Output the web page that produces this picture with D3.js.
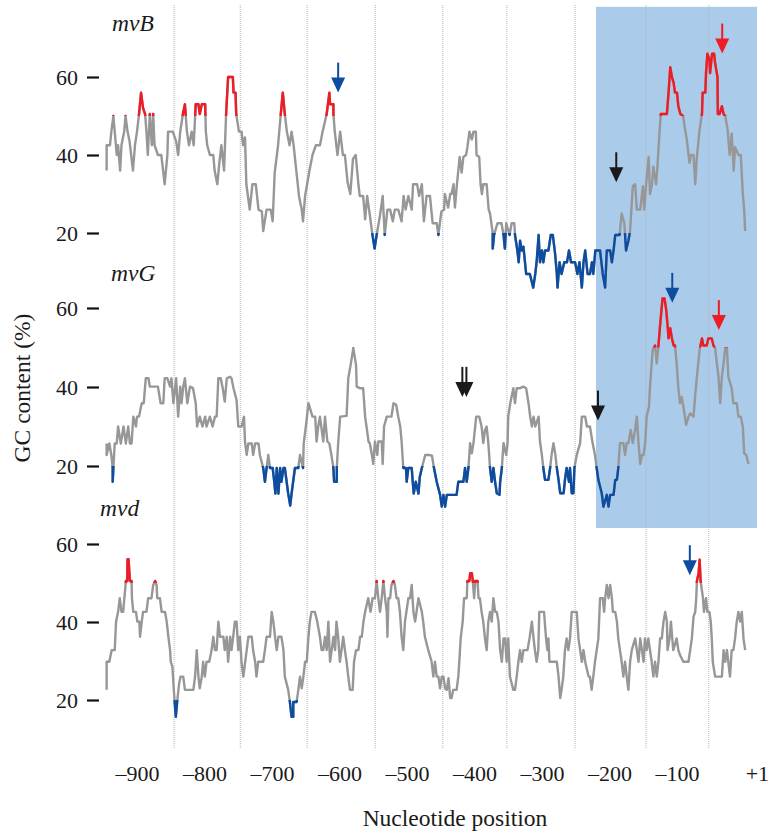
<!DOCTYPE html>
<html>
<head>
<meta charset="utf-8">
<script src="https://cdn.jsdelivr.net/npm/d3@7"></script>
<style>
  html, body { margin: 0; padding: 0; background: #fff; }
  svg { display: block; font-family: "Liberation Serif", "Times New Roman", serif; }
</style>
</head>
<body>
<svg id="chart" width="769" height="832"></svg>
<script>
// GC content along the promoter region, [nucleotide position, GC %]
const mvB = [
  [-945,36],[-945,42.5],[-940,42.5],[-938,46],[-935,50],[-933,46],[-930,40],[-928,42.5],[-925,36],[-923,42.5],
  [-919,46],[-917,50],[-914,46],[-911,43.5],[-906,36],[-903,42.5],[-900,46],[-897,50.5],[-894,56],[-891,52],
  [-888,50.5],[-886,46],[-884,40],[-881,50.5],[-878,42.5],[-876,50.5],[-874,42.5],[-869,40],[-864,40],[-859,32.5],
  [-855,40],[-854,46],[-847,46],[-842,43.5],[-839,40],[-836,46],[-832,50.5],[-829,53],[-826,46],[-823,42.5],
  [-819,46],[-816,42.5],[-813,53],[-809,53],[-807,50.5],[-804,53],[-799,53],[-798,46],[-796,42.5],[-792,40],
  [-787,40],[-785,36],[-781,32.5],[-778,38],[-775,42.5],[-771,36],[-768,50.5],[-765,60],[-758,60],[-757,56],
  [-754,56],[-753,50.5],[-749,46],[-745,46],[-743,42.5],[-740,44.5],[-738,32.5],[-733,26],[-729,32.5],[-724,32.5],
  [-720,26],[-715,25.5],[-713,20.5],[-708,26],[-702,26],[-699,23],[-696,35.5],[-691,42.5],[-687,50.5],[-684,56],
  [-681,50.5],[-678,46],[-674,42.5],[-671,46],[-668,42.5],[-664,36],[-660,29.5],[-656,26],[-654,23],[-651,29.5],
  [-648,32.5],[-644,36.5],[-640,40],[-635,42.5],[-629,42.5],[-625,46],[-619,50.5],[-615,56],[-614,53],[-609,53],
  [-609,50.5],[-607,46],[-603,40],[-599,46],[-595,40],[-592,40],[-588,33],[-584,30],[-580,39],[-576,40],
  [-572,32.5],[-570,29.5],[-565,29.5],[-562,23.5],[-559,29.5],[-555,24.5],[-552,20.5],[-548,16],[-545,19.5],[-540,24.5],
  [-536,29.5],[-533,19.5],[-529,26],[-525,26],[-521,23],[-518,26],[-513,26],[-508,23],[-505,29.5],[-502,26],
  [-498,29.5],[-493,26],[-491,32.5],[-485,32.5],[-482,29.5],[-478,32.5],[-475,23],[-471,29.5],[-466,29.5],
  [-462,22.5],[-456,22.5],[-453.5,19.5],[-451,23],[-449,25.5],[-445,26],[-444,30],[-439,26.5],[-436,30],[-434,30],
  [-431,32.5],[-429,26.5],[-426,32.5],[-422,39.5],[-419,35.5],[-416.5,39.5],[-412.5,40],[-410.5,42],[-407.5,46],[-404,44],
  [-401.5,46],[-398,46],[-397,40],[-393,39.5],[-391,32.5],[-389,30],[-387,32.5],[-382,32.5],[-379,26],[-377,25],
  [-373,20],[-373,16],[-371,19.5],[-366,22.5],[-360,22.5],[-357,19.5],[-355,16],[-353,22.5],[-348,19.5],[-345,22.5],
  [-341,22.5],[-340,19.5],[-336.5,15.5],[-334.5,12.5],[-332.5,18],[-330,15.5],[-327.5,16.5],[-323.5,9.5],[-318,9.5],[-313,6],
  [-310,9.5],[-308,12.5],[-305,19.5],[-303,12.5],[-300,15.5],[-298,12.5],[-295.5,15.5],[-290.5,15.5],[-287,19.5],[-284,19.5],
  [-280.5,14.5],[-278,9.5],[-277,6],[-274,12.5],[-271,9.5],[-267,12.5],[-263,12.5],[-260,15.5],[-257,12.5],[-251,12.5],
  [-247.5,9.5],[-244.5,12.5],[-241,6],[-238.5,12.5],[-236,15.5],[-232.5,9.5],[-229,9.5],[-226,12.5],[-224,9.5],[-221,15.5],
  [-214,15.5],[-210,9.5],[-206.5,6],[-204,15.5],[-199,15.5],[-196.5,12.5],[-194,15.5],[-191.5,19.5],[-185,19.5],[-182,25],
  [-178,22.5],[-175.5,15.5],[-172,18],[-169.5,20.5],[-165.5,32],[-162,32.5],[-159.5,26],[-154.5,26],[-150.5,32],[-148.5,26],
  [-146,32],[-142,39.5],[-140,30],[-137,32.5],[-135,37],[-131,32.5],[-129,37],[-126,45.5],[-124,50.5],[-121,50.5],
  [-115,50.5],[-112.5,56],[-110,62.5],[-107.5,60],[-105,58.5],[-103,56],[-100,56],[-98,52.5],[-95,50.5],[-91,50],
  [-88,46.5],[-85.5,44],[-81.5,38],[-79.5,40],[-75.5,40],[-73,32.5],[-70.5,39.5],[-66.5,46.5],[-63,50.5],[-62,56],
  [-58,56],[-57,61],[-55,66],[-52,64.5],[-51,61],[-48,66],[-45,66],[-43.5,63.5],[-40,60],[-39.5,50.5],
  [-37,50.5],[-33.5,52.5],[-31,50.5],[-28.5,50],[-25,46.5],[-22,40],[-19,45.5],[-16,36],[-14,42],[-9,40],
  [-5.5,40],[-2.5,30],[-0.5,26],[1,20.5]
];

const mvG = [
  [-945,25.7],[-945,22.8],[-941,25.7],[-938,22.8],[-936,19.5],[-936,16],[-935,19.5],[-933,25.7],[-930,25.7],[-928,30],
  [-924,25.7],[-920,30],[-916.5,25.7],[-913,30],[-910.5,25.7],[-908,25.7],[-905.5,32.5],[-901.5,30],[-900,32.5],[-897,32.5],
  [-893,35.9],[-890,35.9],[-887,42.2],[-883,42.2],[-881,40.1],[-869,40.1],[-865,35.9],[-861,35.9],[-859,42.2],[-855,42.2],
  [-851,40.1],[-849,42.2],[-846,35.9],[-842,42.2],[-839,32.5],[-836,40.1],[-834,35.9],[-831.5,40.1],[-829,42.2],[-825.5,35.9],
  [-821.5,40.1],[-817,39.7],[-813,35.9],[-811,30],[-807,32.5],[-803,30],[-799,32.5],[-797,30],[-792,32.5],[-788,30],
  [-784.5,32.5],[-782,32.5],[-779.5,42.2],[-776,42.2],[-773,39.7],[-770,36.3],[-767,42.2],[-762,42.6],[-760,42.2],[-757,39.7],
  [-752.5,36.7],[-750,30],[-745,30],[-741.5,32.5],[-740,26.2],[-737.5,22.8],[-735,25.7],[-730,25.7],[-728,22.8],[-725,25.7],
  [-720,25.7],[-718,22.8],[-713,19.5],[-710.5,16],[-708,19.5],[-705.5,22.8],[-703,19.5],[-699,19.5],[-697,16.5],[-695,13],
  [-693,19.5],[-690.5,13],[-688,19.5],[-686,16],[-683,19.5],[-681,19.5],[-676,13],[-673,10],[-671,13],[-666,19.5],
  [-661,19.5],[-658.5,22.8],[-654,19.5],[-653,25.7],[-649,31.2],[-646,35.9],[-643,34.2],[-640,32.5],[-636,32.5],[-634,26.2],
  [-631.5,30],[-629,32.5],[-624,26.2],[-621.5,32.5],[-618,26.2],[-615,25.7],[-612,22.8],[-609,19.5],[-608,16],[-604,16],
  [-604,19.5],[-602,25.7],[-599,32.5],[-589.5,32.7],[-587,42.2],[-583.5,45.6],[-579.5,49.8],[-575.5,45.6],[-574.5,40.1],[-570,39.7],
  [-565,39.7],[-562,32.5],[-557,26.2],[-555,25.7],[-552,22.8],[-550,20.5],[-547.5,26.2],[-544,22.8],[-542.5,26.2],[-537.5,26.2],
  [-536,20.5],[-534,30],[-530,32.5],[-523,32.5],[-520,35.9],[-516,35.5],[-513,32.5],[-510,30],[-508,26.2],[-505.5,19.5],
  [-501.5,19.5],[-500.5,16],[-498,19.5],[-493,19.5],[-491.5,16],[-490,13],[-487,16],[-483,13],[-481,17.3],[-478,19.5],
  [-473,22.8],[-468,22.8],[-463,22.6],[-460,19.5],[-456,16],[-451,12.7],[-448.5,9.7],[-446,12.7],[-443.5,9.7],[-441,12.7],
  [-426.5,12.7],[-424,16],[-416.5,16],[-414,19.5],[-411.5,16],[-409,19.5],[-406.5,25.8],[-404,23.2],[-401.5,25.8],[-397.5,32.5],
  [-393,32.5],[-389.5,30],[-387,25.8],[-384.5,29.1],[-382,30],[-379.5,25.8],[-377,19.5],[-374.5,16],[-372,19.5],[-369.5,16],
  [-367,13.1],[-363,12.7],[-362,16],[-359.5,19.5],[-357,25.8],[-353,22.8],[-351,25.8],[-350,32.5],[-347,35.9],[-342.5,39.7],
  [-340,35.9],[-337.5,39.7],[-332.5,39.7],[-327.5,40.1],[-323.5,39.7],[-320,35.9],[-317.5,32.5],[-315,30],[-312.5,32.5],[-310,30],
  [-305,32.5],[-303,26.2],[-300.5,23.2],[-298,19.5],[-295.5,16.5],[-290.5,16.5],[-288,19.5],[-285.5,23.2],[-283,25.8],[-280.5,23.2],
  [-278,19.5],[-275.5,16.5],[-273,13.1],[-268,13.1],[-266,16.5],[-263.5,19.5],[-260,16],[-258.5,19.5],[-256,13.1],[-253.5,13.1],
  [-252,19.5],[-248.5,22.8],[-243.5,25.8],[-241,32.5],[-236,32.5],[-233.5,30],[-229,30],[-225,25.8],[-221.5,22.8],[-219,19.5],
  [-216.5,16.5],[-211.5,13.1],[-209,9.7],[-204,12.7],[-201.5,9.7],[-199,12.7],[-194,12.7],[-191.5,16.5],[-189,16.5],[-187,19.5],
  [-184.5,25.8],[-179.5,25.8],[-177,22.8],[-174.5,25.8],[-172,25.8],[-168.5,29.1],[-165.5,25.8],[-162,29.1],[-159.5,32.5],[-157,25.8],
  [-154.5,20.5],[-152,22.8],[-149.5,22.8],[-147,26.2],[-145,32.5],[-141.5,35],[-140,40.1],[-137.5,46],[-136,49.4],[-132.5,50.5],
  [-130,46],[-127.5,50.5],[-125,55.7],[-121.5,62.4],[-118.5,62.4],[-116,59.5],[-114,55.7],[-112.5,52.3],[-110,54.9],[-107.5,52.3],
  [-105,50.5],[-103,50.5],[-100.5,46],[-98,39.7],[-95.5,35.9],[-93,37.5],[-90.5,35],[-86.5,30.4],[-83,32.5],[-80.5,33.3],
  [-75.5,32.5],[-73,38],[-70.5,42.6],[-66.5,49.4],[-63,52.3],[-61,50.5],[-56,50.5],[-53.5,52.3],[-48.5,52.3],[-46,50.5],
  [-43.5,49.8],[-41,46],[-38.5,42.6],[-36,35.9],[-33.5,42.6],[-31,46],[-28.5,49.8],[-26,49.8],[-24,42.6],[-19,39.7],
  [-16.5,35.9],[-11.5,35.9],[-9,32.5],[-5.5,32.5],[-2.5,30],[-0.5,23.2],[2.5,22.8],[6,20.5]
];

const mvd = [
  [-945,22.6],[-945,29.8],[-941,29.8],[-937.5,32.8],[-933,32.8],[-931,40.1],[-928,42.6],[-925.5,46.1],[-923,42.6],[-920.5,42.6],
  [-916.5,50.5],[-914.5,50.5],[-914,56.1],[-912.5,56.1],[-910.5,50.5],[-908,50.5],[-907.5,46.1],[-905.5,42.6],[-901.5,42.6],[-899.5,40.1],
  [-896.5,40.1],[-895.5,36.2],[-893,40.1],[-891,42.6],[-886,42.6],[-883.5,46.1],[-878.5,46.1],[-876,49.5],[-873,50.5],[-871,49.5],
  [-870,46.1],[-866,46.1],[-863.5,42.6],[-858.5,42.6],[-856,40.1],[-853.5,36.2],[-851,32.8],[-850,29.8],[-847.5,28.5],[-845.5,22.6],
  [-842.5,15.7],[-840.5,19.6],[-837.5,24.3],[-835.5,26],[-831.5,26],[-829,22.6],[-816.5,22.6],[-814,26],[-811.5,32.8],[-809,26],
  [-807,23],[-804,26],[-802,29.8],[-799.5,26],[-797,29.8],[-793,29.8],[-789.5,32.8],[-787,36.2],[-784.5,32.8],[-782,32.8],
  [-779.5,40.1],[-777,36.2],[-772,36.2],[-770,32.8],[-767,36.2],[-765,29.8],[-762,36.2],[-760,32.8],[-757.5,36.2],[-755,40.1],
  [-752.5,40.1],[-750,32.8],[-747.5,36.2],[-745,29.4],[-742.5,26],[-740,29.4],[-737.5,32.8],[-735,36.2],[-730,36.2],[-728,32.8],
  [-725,29.8],[-723,26],[-720.5,29.8],[-713,29.8],[-710.5,32.8],[-708,36.2],[-703,36.2],[-700.5,42.6],[-698,40.1],[-695.5,36.2],
  [-693,32.8],[-690.5,36.2],[-686,36.2],[-683,32.8],[-681,26],[-676,22.6],[-673.5,19.5],[-671,15.7],[-668.5,15.7],[-668.5,19.5],
  [-663.5,19.5],[-661,22.6],[-658.5,26],[-656,23],[-653.5,26],[-651,29.8],[-648.5,29.8],[-646,36.2],[-644,40.1],[-641.5,42.6],
  [-636.5,42.6],[-633,40.1],[-629,36.2],[-626.5,32.8],[-624,32.8],[-621.5,36.2],[-619,32.8],[-616.5,40.1],[-614,29.8],[-611.5,32.8],
  [-609,36.2],[-606.5,32.8],[-604.5,40.1],[-602,36.2],[-599.5,29.8],[-597,32.8],[-594.5,36.2],[-592,32.8],[-589.5,29.8],[-587,26],
  [-584.5,22.6],[-580.5,22.6],[-578.5,29.8],[-575.5,32.8],[-572,32.8],[-569.5,36.2],[-567,36.2],[-564.5,40.1],[-562,42.6],[-557.5,46.1],
  [-554,42.6],[-551,46.1],[-547.5,46.1],[-545,50.5],[-542.5,46.1],[-540,42.6],[-537.5,46.1],[-535,50.5],[-532.5,46.1],[-530,42.6],
  [-529,36.2],[-527.5,46.1],[-525,46.1],[-523,49.5],[-520,50.5],[-518,49.5],[-515.5,46.1],[-513,46.1],[-510.5,42.6],[-508,36.2],
  [-505.5,32.8],[-503,40.1],[-498,46.1],[-495.5,46.1],[-493,49.5],[-490.5,42.6],[-488,40.1],[-483,46.1],[-478,42.6],[-476,40.1],
  [-473.5,36.2],[-468.5,32.8],[-463.5,29.8],[-461,26],[-458.5,29.8],[-456,26],[-453.5,26],[-451,23],[-448.5,26],[-446,26],
  [-443.5,23],[-441,22.6],[-438.5,25.6],[-436,20.5],[-434,20.5],[-431.5,22.6],[-426.5,22.6],[-424,26],[-422.5,29.8],[-420.5,35.8],
  [-417.5,40.1],[-415.5,46.1],[-411.5,46.1],[-410.5,50.5],[-407.5,50.5],[-406.5,52.5],[-404,52.5],[-402.5,50.5],[-400.5,46.1],[-399,50.5],
  [-395.5,50.5],[-394,46.1],[-392,46.1],[-389.5,42.6],[-387,40.1],[-384.5,35.8],[-382,32.8],[-379.5,40.1],[-377,42.6],[-374.5,40.1],
  [-372,46.1],[-369.5,42.6],[-367,42.6],[-364.5,40.1],[-362,32.8],[-359.5,29.8],[-357,35.8],[-354.5,35.8],[-352.5,29.8],[-350,35.8],
  [-347.5,26],[-345,24.3],[-342.5,22.6],[-340,22.6],[-337.5,26],[-335,29.8],[-332.5,32.8],[-330,29.8],[-327.5,32.8],[-321.5,32.8],
  [-318.5,35.8],[-315,40.1],[-312.5,35.8],[-310.5,32.8],[-308,29.8],[-305.5,32.8],[-304,42.6],[-297,42.6],[-294,35.8],[-292,32.8],
  [-290.5,35.8],[-289,29.8],[-278,29.8],[-275.5,26],[-273,20.5],[-271,22.6],[-268.5,26],[-266,32.8],[-263.5,35.8],[-261,32.8],
  [-258.5,35.8],[-256,42.6],[-248.5,42.6],[-246,35.8],[-243.5,32.8],[-241,29.8],[-238.5,32.8],[-236,29.8],[-231,26],[-229,26],
  [-226.5,22.6],[-224,26],[-221.5,29.8],[-219,32.8],[-216.5,35.8],[-214,46.1],[-210,46.1],[-208,42.6],[-206.5,46.1],[-204,49.5],
  [-201.5,46.1],[-199,49.5],[-196.5,46.1],[-195,42.6],[-191.5,42.6],[-189,40.1],[-187,35.8],[-184.5,32.8],[-182,29.8],[-179.5,26],
  [-177,29.8],[-174.5,26],[-172,22.6],[-169.5,29.8],[-167,32.8],[-162,35.8],[-159.5,32.8],[-157,29.8],[-154.5,35.8],[-152,32.8],
  [-149.5,29.8],[-147.5,35.8],[-145,32.8],[-142.5,35.8],[-140,32.8],[-137.5,29.8],[-135,26],[-132.5,29.8],[-130,26],[-127.5,29.8],
  [-125,35.8],[-122.5,35.8],[-120,40.1],[-117.5,42.6],[-115,40.1],[-114,32.8],[-111,35.8],[-109,40.1],[-107,35.8],[-105.5,32.8],
  [-100.5,35.8],[-98,32.8],[-95.5,31.5],[-90.5,29.8],[-83,29.8],[-80.5,32.8],[-78,35.8],[-75.5,41.4],[-73,42.6],[-71.5,46.1],
  [-70.5,50.5],[-68,52.5],[-66.5,56],[-65,50.5],[-61.5,46.1],[-60,42.6],[-57,46.1],[-55,42.6],[-52,42.6],[-50,40.1],
  [-48.5,35.8],[-47,29.8],[-43.5,26],[-33.5,26],[-31,32.8],[-28.5,29.8],[-26,32.8],[-24,29.8],[-21.5,26],[-19,32.8],
  [-16.5,32.8],[-14,35.8],[-11.5,40.1],[-9,42.6],[-6.5,40.1],[-4,42.6],[-1.5,35.8],[1,32.8]
];

const seriesNames = ["mvB", "mvG", "mvd"];
const seriesData = [mvB, mvG, mvd];
const yTicks = [20, 40, 60];
const xTicks = [-900, -800, -700, -600, -500, -400, -300, -200, -100, 1];
const gridPositions = [-845, -747, -648, -547, -447, -352, -251, -146, -53];
const highThreshold = 50;
const lowThreshold = 20;
const shadeRange = [-220, 18.5];   // highlighted region (nt)

// arrows: [panel index, position, GC % at tip, colour key]
const arrows = [
  [0, -602, 56, "blue"], [0, -190, 33, "black"], [0, -33, 66, "red"],
  [1, -418, 37.5, "black"], [1, -412, 37.5, "black"], [1, -217, 31.5, "black"],
  [1, -107, 61.3, "blue"], [1, -38, 54.4, "red"],
  [2, -81, 52, "blue"]
];

// ---- layout ----
const colors = { gray: "#979797", red: "#ee1c25", blue: "#0c4da2", black: "#1a1a1a", shade: "#abcbeb" };
const serif = "'Liberation Serif', 'Times New Roman', serif";
const panelLayout = [
  { y60: 77, y20: 233, labelX: 112, labelY: 31 },
  { y60: 308, y20: 466, labelX: 111, labelY: 281 },
  { y60: 544, y20: 700, labelX: 100, labelY: 516 }
];

const svg = d3.select("#chart");
const W = 769, H = 832;

const x = d3.scaleLinear().domain([-900, -100]).range([137, 677]);
const yScales = panelLayout.map((p) => d3.scaleLinear().domain([20, 60]).range([p.y20, p.y60]));

// shaded highlight region spanning the top two panels
svg.append("rect")
  .attr("x", x(shadeRange[0]))
  .attr("width", x(shadeRange[1]) - x(shadeRange[0]))
  .attr("y", yScales[0](78))
  .attr("height", yScales[1](4.3) - yScales[0](78))
  .attr("fill", colors.shade);

// dotted vertical grid lines
svg.append("g")
  .selectAll("line")
  .data(gridPositions)
  .join("line")
  .attr("x1", (d) => x(d)).attr("x2", (d) => x(d))
  .attr("y1", 5).attr("y2", 748)
  .attr("stroke", "#b4b4b4")
  .attr("stroke-width", 1)
  .attr("stroke-dasharray", "1,1");

const defs = svg.append("defs");

seriesData.forEach((data, i) => {
  const y = yScales[i];
  const g = svg.append("g");

  // clip regions for the high / low GC parts
  defs.append("clipPath").attr("id", "hi" + i)
    .append("rect").attr("x", 0).attr("width", W).attr("y", 0).attr("height", y(highThreshold));
  defs.append("clipPath").attr("id", "lo" + i)
    .append("rect").attr("x", 0).attr("width", W).attr("y", y(lowThreshold)).attr("height", H - y(lowThreshold));

  const line = d3.line().x((d) => x(d[0])).y((d) => y(d[1]));

  [["gray", null], ["red", "hi" + i], ["blue", "lo" + i]].forEach(([c, clip]) => {
    const p = g.append("path")
      .datum(data)
      .attr("d", line)
      .attr("fill", "none")
      .attr("stroke", colors[c])
      .attr("stroke-width", 2.4)
      .attr("stroke-linejoin", "round");
    if (clip) p.attr("clip-path", `url(#${clip})`);
  });

  // y axis
  const axis = svg.append("g")
    .attr("transform", "translate(99,0)")
    .call(d3.axisLeft(y).tickValues(yTicks).tickSize(12).tickPadding(9))
    .attr("font-family", serif)
    .attr("font-size", 22);
  axis.select(".domain").remove();
  axis.selectAll(".tick line").attr("stroke", "#111").attr("stroke-width", 2.2);
  axis.selectAll(".tick text").attr("fill", "#1a1a1a");

  // panel title
  svg.append("text")
    .attr("x", panelLayout[i].labelX)
    .attr("y", panelLayout[i].labelY)
    .attr("font-family", serif)
    .attr("font-style", "italic")
    .attr("font-size", 23.5)
    .attr("fill", "#1a1a1a")
    .text(seriesNames[i]);
});

// arrows
arrows.forEach(([pi, pos, gc, c]) => {
  const ax = x(pos), ay = yScales[pi](gc);
  const g = svg.append("g");
  g.append("line")
    .attr("x1", ax).attr("x2", ax)
    .attr("y1", ay - 30).attr("y2", ay - 12)
    .attr("stroke", colors[c]).attr("stroke-width", 2);
  g.append("path")
    .attr("d", `M${ax - 7},${ay - 15}L${ax + 7},${ay - 15}L${ax},${ay}Z`)
    .attr("fill", colors[c]);
});

// x axis labels
const xAxis = svg.append("g")
  .attr("transform", "translate(0,765)")
  .call(d3.axisBottom(x).tickValues(xTicks).tickSize(0).tickPadding(0)
    .tickFormat((d) => (d > 0 ? "+" + d : "\u2013" + Math.abs(d))))
  .attr("font-family", serif)
  .attr("font-size", 22);
xAxis.select(".domain").remove();
xAxis.selectAll(".tick text").attr("fill", "#1a1a1a");
xAxis.selectAll(".tick text").filter((d) => d > 0).attr("text-anchor", "start");

// axis titles
svg.append("text")
  .attr("x", 455).attr("y", 826)
  .attr("text-anchor", "middle")
  .attr("font-family", serif)
  .attr("font-size", 23.5)
  .attr("fill", "#1a1a1a")
  .text("Nucleotide position");

svg.append("text")
  .attr("transform", "translate(30,388) rotate(-90)")
  .attr("text-anchor", "middle")
  .attr("font-family", serif)
  .attr("font-size", 23.5)
  .attr("fill", "#1a1a1a")
  .text("GC content (%)");
</script>
</body>
</html>
